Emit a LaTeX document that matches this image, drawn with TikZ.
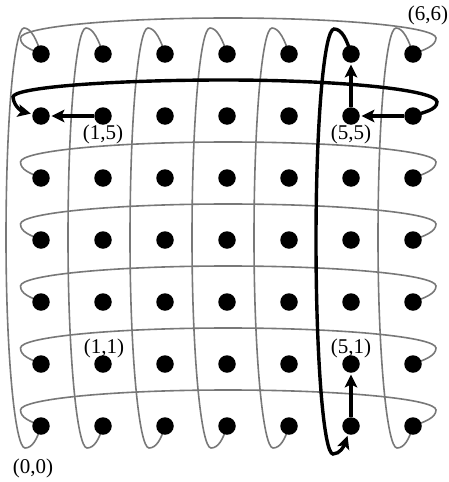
\documentclass[tikz,border=0pt]{standalone}
\usepackage{fontspec}
\setmainfont{Liberation Serif}
\usetikzlibrary{arrows.meta,backgrounds}
\definecolor{loopgray}{RGB}{120,120,120}
\tikzset{
 dot/.style={circle,fill=black,inner sep=0pt,minimum size=17.5pt},
 grayloop/.style={draw=loopgray,line width=1.6pt},
 blackloop/.style={draw=black,line width=3.4pt},
 blktip/.style={-{Stealth[length=13pt,width=12.5pt,inset=3pt]},shorten >=1.5pt},
 blkarrow/.style={draw=black,line width=3.4pt,blktip},
 lbl/.style={inner sep=0pt,font=\fontsize{21}{25}\selectfont}
}
\begin{document}
\begin{tikzpicture}[x=1pt,y=-1pt]
\useasboundingbox (0,0) rectangle (448,482);
\foreach \i in {0,...,6}{\foreach \j in {0,...,6}{
 \node[dot] (d-\i-\j) at ({41+62*\i},{426-62*\j}) {};
}}
\begin{scope}[on background layer]
 % gray horizontal loops
 \foreach \j in {0,1,2,3,4,6}{
   \pgfmathsetmacro\y{426-62*\j}
   \draw[grayloop] (d-0-\j.center) .. controls (30,\y-5) and (20.5,\y-8) .. (20.5,\y-16)
     .. controls (20.5,\y-27) and (113,\y-36) .. (228,\y-36)
     .. controls (343,\y-36) and (436,\y-27) .. (436,\y-16)
     .. controls (436,\y-8) and (424,\y-4) .. (d-6-\j.center);
 }
 % gray vertical loops
 \foreach \i in {0,1,2,3,4,6}{
   \pgfmathsetmacro\x{41+62*\i}
   \draw[grayloop] (d-\i-6.center) .. controls (\x-4,40) and (\x-10,28) .. (\x-17,28)
     .. controls (\x-27,28) and (\x-35,122) .. (\x-35,238)
     .. controls (\x-35,354) and (\x-26,448) .. (\x-16,448)
     .. controls (\x-9,448) and (\x-4,440) .. (d-\i-0.center);
 }
 % black row loop (row 5)
 \draw[blackloop,blktip] (d-6-5.center) .. controls (424,112) and (437,110) .. (437,102)
   .. controls (437,90) and (342,80) .. (225,80)
   .. controls (108,80) and (13,87.6) .. (13,97)
   .. controls (14,108) and (24,112) .. (d-0-5);
 % black column loop (column 5)
 \draw[blackloop,blktip] (d-5-6.center) .. controls (347,40) and (342,29) .. (334,29)
   .. controls (324,29) and (316,123.5) .. (316,240)
   .. controls (316,358) and (323.6,454) .. (333,454)
   .. controls (340,454) and (344,446) .. (d-5-0);
\end{scope}
% arrows between neighbours
\draw[blkarrow] (d-1-5) -- (d-0-5);
\draw[blkarrow] (d-6-5) -- (d-5-5);
\draw[blkarrow] (d-5-5) -- (d-5-6);
\draw[blkarrow] (d-5-0) -- (d-5-1);
% labels
\node[lbl] (l66) at (428,15) {(6,6)};
\node[lbl] (l15) at (103,134) {(1,5)};
\node[lbl] (l55) at (351,134) {(5,5)};
\node[lbl] (l11) at (104,348) {(1,1)};
\node[lbl] (l51) at (351,348) {(5,1)};
\node[lbl] (l00) at (33,468) {(0,0)};
\end{tikzpicture}
\end{document}
